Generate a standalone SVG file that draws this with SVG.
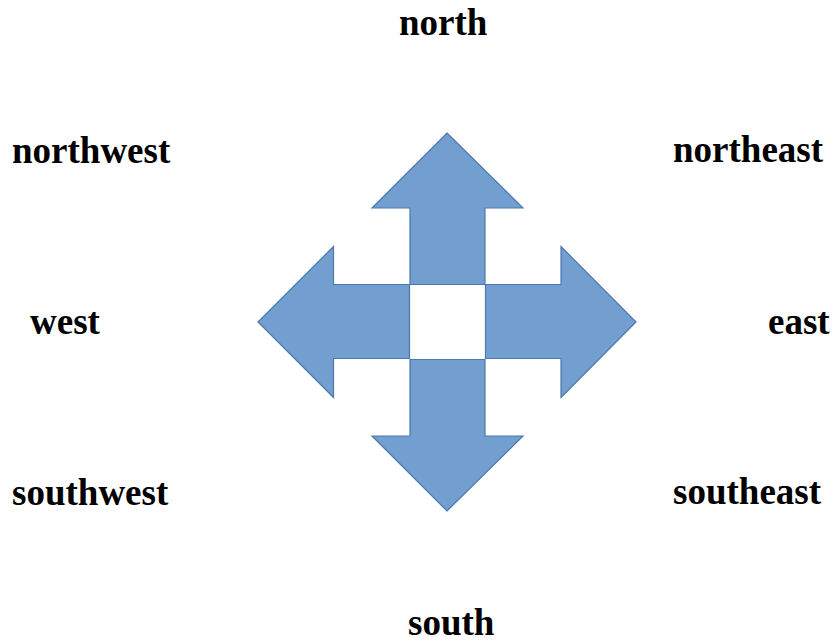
<svg xmlns="http://www.w3.org/2000/svg" width="835" height="642" viewBox="0 0 835 642">
<style>
.arrow{fill:#729FCF;stroke:#4C78AE;stroke-width:1.2;stroke-linejoin:miter}
.lbl{font-family:"Liberation Serif","Times New Roman",serif;font-weight:bold;font-size:37px;fill:#000}
</style>
<rect width="835" height="642" fill="#fff"/>
<g id="arrow-up"><polygon class="arrow" points="447,133 523,208 485,208 485,284.5 410,284.5 410,208 372,208"/></g>
<g id="arrow-left"><polygon class="arrow" points="258,322 333.5,246.5 333.5,284.5 409.5,284.5 409.5,358.5 333.5,358.5 333.5,397.5"/></g>
<g id="arrow-right"><polygon class="arrow" points="636,322 561,246.5 561,284.5 485.5,284.5 485.5,358.5 561,358.5 561,397.5"/></g>
<g id="arrow-down"><polygon class="arrow" points="447,511 523,436 485,436 485,359.5 410,359.5 410,436 372,436"/></g>
<g id="connectors"></g>
<g id="labels">
<text class="lbl" x="399" y="35">north</text>
<text class="lbl" x="12" y="163">northwest</text>
<text class="lbl" x="673" y="162">northeast</text>
<text class="lbl" x="30" y="334">west</text>
<text class="lbl" x="768" y="334">east</text>
<text class="lbl" x="12" y="505">southwest</text>
<text class="lbl" x="673" y="504">southeast</text>
<text class="lbl" x="408" y="635">south</text>
</g>
</svg>
